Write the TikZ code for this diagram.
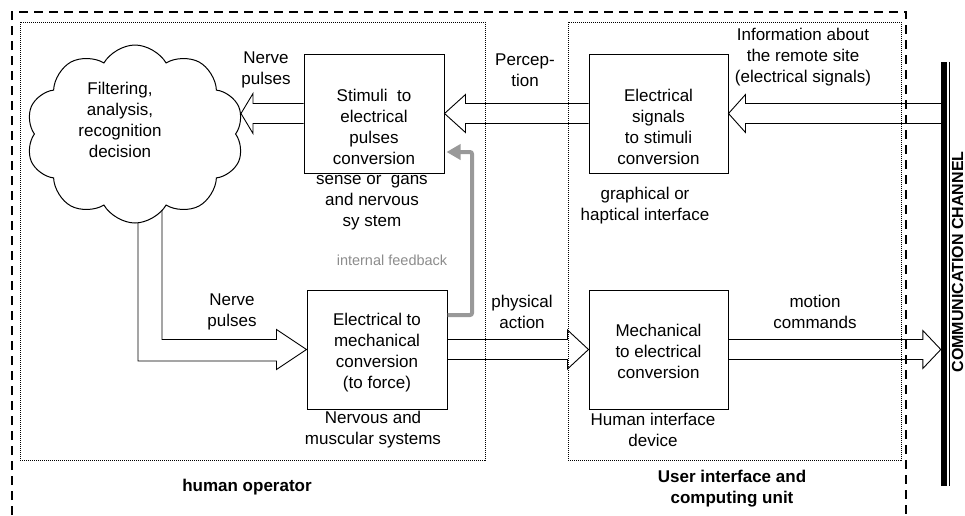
\documentclass[tikz,border=0pt]{standalone}
\usepackage{fontspec}
\setmainfont{Liberation Sans}
\usetikzlibrary{calc,shapes.symbols,arrows.meta}

% hollow block arrow: tail, tip (same height), signed head length, head half-width
\newcommand{\hollowarrow}[4]{%
  \draw[flow] ($(#1)+(0,-10)$) -- ($(#2)+(#3,-10)$) -- ($(#2)+(#3,-#4)$) -- (#2)
    -- ($(#2)+(#3,#4)$) -- ($(#2)+(#3,10)$) -- ($(#1)+(0,10)$);}

\tikzset{
  procbox/.style={draw, line width=1pt, minimum width=140pt, minimum height=119pt, inner sep=0pt},
  txt/.style={align=center, inner sep=0pt, font=\fontsize{17}{21}\selectfont},
  boldtxt/.style={align=center, inner sep=0pt, font=\fontsize{17}{21}\selectfont\bfseries},
  smalltxt/.style={inner sep=0pt, text=black!45, font=\fontsize{14.5}{17}\selectfont},
  flow/.style={line width=0.9pt, line join=miter},
  region/.style={line width=1pt, dash pattern=on 1pt off 1pt},
  outerline/.style={line width=2.6pt, dash pattern=on 9pt off 6pt},
  feedback/.style={line width=4pt, draw=black!40, rounded corners=2pt,
    -{Triangle[length=14pt,width=15pt]}},
}

\begin{document}
\begin{tikzpicture}[x=1pt,y=-1pt]
\useasboundingbox (0,0) rectangle (965,515);

% system boundary and the two sub-systems
\draw[outerline] (12,515) -- (12,12) -- (906,12) -- (906,515);
\draw[region] (20,22) rectangle (485,460);
\draw[region] (568,22) rectangle (901,460);

% communication channel
\node[draw=none, fill=black, minimum width=6pt, minimum height=424pt, inner sep=0pt] (chan) at (944,274) {};
\draw[line width=0.9pt] ($(chan.north east)+(2.5,0)$) -- ($(chan.south east)+(2.5,0)$);
\node[boldtxt, rotate=90, font=\fontsize{16}{20}\selectfont\bfseries] (chanlbl) at (957.5,262) {COMMUNICATION CHANNEL};

% processing blocks
\node[procbox] (stim) at (374,113.5) {};
\node[procbox, minimum width=139pt] (elsig) at (658.5,113.5) {};
\node[procbox] (elmech) at (377,349.5) {};
\node[procbox, minimum width=139pt] (mech) at (658.5,349.5) {};

% bent arrow from the decision stage to the muscles (drawn before the cloud)
\draw[flow] (162,190) -- (162,339.5) -- ($(elmech.west)+(-30,-10)$) -- ($(elmech.west)+(-30,-20)$)
  -- (elmech.west) -- ($(elmech.west)+(-30,20)$) -- ($(elmech.west)+(-30,11.5)$) -- (138,361) -- (138,190);

% decision cloud
\node[cloud, draw, fill=white, line width=1pt, cloud puffs=10, cloud puff arc=120, aspect=1.25,
  minimum width=218pt, minimum height=178pt, inner sep=0pt] (brain) at (135,134) {};
\node[txt] (braintxt) at (120,120) {Filtering,\\analysis,\\recognition\\decision};

% block texts
\node[txt] (stimtxt) at (374,126.5) {Stimuli\ \ to\\electrical\\pulses\\conversion};
\node[txt] (elsigtxt) at (658.5,126.5) {Electrical\\signals\\to stimuli\\conversion};
\node[txt] (elmechtxt) at (377,353) {Electrical to\\mechanical\\conversion\\(to force)};
\node[txt] (mechtxt) at (658.5,351) {Mechanical\\to electrical\\conversion};

% signal flow
\coordinate (chanin) at (chan.west |- elsig.east);
\coordinate (chanout) at (chan.west |- mech.east);
\coordinate (cloudin) at (241,113.5);
\hollowarrow{chanin}{elsig.east}{17}{19}
\hollowarrow{elsig.west}{stim.east}{21}{19}
\hollowarrow{stim.west}{cloudin}{12}{20}
\hollowarrow{elmech.east}{mech.west}{-21}{19.5}
\hollowarrow{mech.east}{chanout}{-18}{19}

% internal feedback loop
\draw[feedback] (elmech.east |- 0,315) -- (472,315) -- (472,152) -- ($(stim.east |- 0,152)+(2,0)$);
\node[smalltxt] (fbtxt) at (392,260) {internal feedback};

% flow labels
\node[txt] (np1) at (266,70) {Nerve\\pulses};
\node[txt] (perc) at (525,70) {Percep-\\tion};
\node[txt] (info) at (803,57) {Information about\\the remote site\\(electrical signals)};
\node[txt] (np2) at (232,312) {Nerve\\pulses};
\node[txt] (phys) at (522,312) {physical\\action};
\node[txt] (motion) at (815,312) {motion\\commands};

% block captions
\node[txt] (sense) at (372,203) {sense or\ \ gans\\and nervous\\sy stem};
\node[txt] (graph) at (645,206) {graphical or\\haptical interface};
\node[txt] (nerv) at (373,430) {Nervous and\\muscular systems};
\node[txt] (hid) at (653,430) {Human interface\\device};

% sub-system titles
\node[boldtxt] (human) at (247,487) {human operator};
\node[boldtxt] (uiu) at (732,489) {User interface and\\computing unit};
\end{tikzpicture}
\end{document}
